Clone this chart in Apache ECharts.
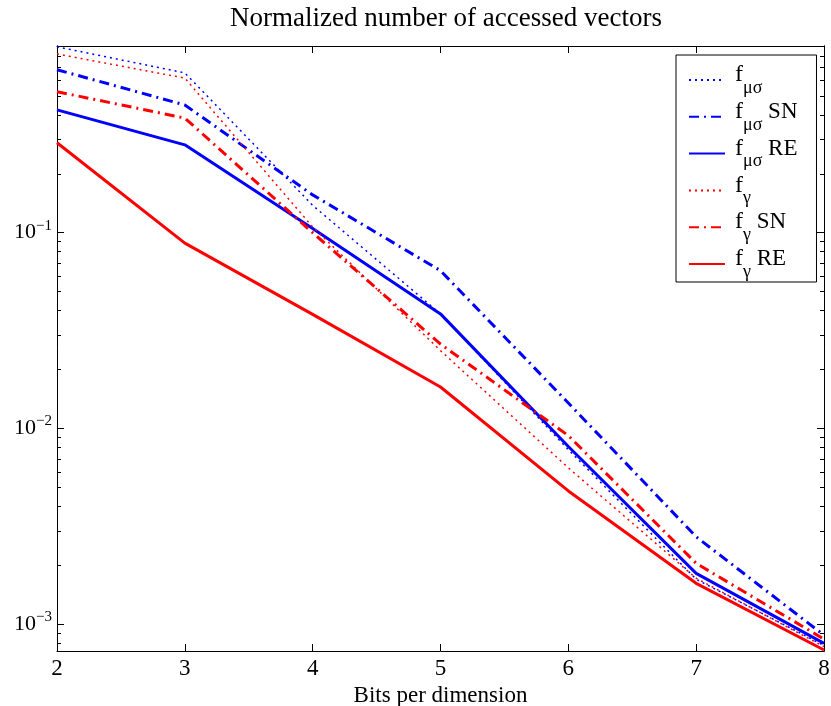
<!DOCTYPE html>
<html>
<head>
<meta charset="utf-8">
<title>Normalized number of accessed vectors</title>
<script src="https://cdn.jsdelivr.net/npm/echarts@6/dist/echarts.min.js"></script>
<style>
  html, body { margin: 0; padding: 0; background: #fff; }
  #chart { width: 831px; height: 706px; }
</style>
</head>
<body>
<div id="chart"></div>
<script>
  // bits per dimension
  var bits = [2, 3, 4, 5, 6, 7, 8];

  // values
  var fMuSigma   = [0.89, 0.655, 0.138, 0.0385, 0.0078, 0.0017, 0.00078];
  var fMuSigmaSN = [0.68, 0.449, 0.156, 0.064, 0.0135, 0.0028, 0.00088];
  var fMuSigmaRE = [0.424, 0.281, 0.105, 0.0385, 0.0081, 0.00182, 0.0008];
  var fGamma     = [0.818, 0.616, 0.107, 0.025, 0.0063, 0.00172, 0.00077];
  var fGammaSN   = [0.525, 0.385, 0.1, 0.027, 0.0092, 0.00205, 0.00084];
  var fGammaRE   = [0.288, 0.0885, 0.0383, 0.0163, 0.0048, 0.00162, 0.00074];

  var seriesNames = ['fμσ', 'fμσ SN', 'fμσ RE', 'fγ', 'fγ SN', 'fγ RE'];
  // legend text: [subscript, suffix]
  var legendParts = [['μσ', ''], ['μσ', ' SN'], ['μσ', ' RE'], ['γ', ''], ['γ', ' SN'], ['γ', ' RE']];

  var majorTicks = [0.001, 0.01, 0.1];
  var minorTicks = [0.0008, 0.0009,
    0.002, 0.003, 0.004, 0.005, 0.006, 0.007, 0.008, 0.009,
    0.02, 0.03, 0.04, 0.05, 0.06, 0.07, 0.08, 0.09,
    0.2, 0.3, 0.4, 0.5, 0.6, 0.7, 0.8];

  var yMin = 0.000731, yMax = 0.8985;
  var font = 'Liberation Serif';

  function pairs(arr) {
    return bits.map(function (b, i) { return [b, arr[i]]; });
  }

  var chart = echarts.init(document.getElementById('chart'));

  // log axis, one per tick set / side
  function yAxis(pos, ticks, len, withLabels) {
    return {
      type: 'log', position: pos, min: yMin, max: yMax, logBase: 10,
      axisLine: { show: true, onZero: false, lineStyle: { color: '#000', width: 1 } },
      axisTick: { show: true, inside: true, length: len, customValues: ticks, lineStyle: { color: '#000' } },
      axisLabel: withLabels ? {
        show: true, customValues: majorTicks, margin: 5,
        formatter: function (v) {
          var e = Math.round(Math.log10(v));
          return '{b|10}{s|−' + (-e) + '}';
        },
        rich: {
          b: { fontFamily: font, fontSize: 22, color: '#000' },
          s: { fontFamily: font, fontSize: 15, color: '#000', padding: [0, 0, 14, 0] }
        }
      } : { show: false },
      splitLine: { show: false },
      minorTick: { show: false }
    };
  }

  function xAxis(pos, withLabels) {
    var ax = {
      type: 'value', position: pos, min: 2, max: 8, interval: 1,
      axisLine: { show: true, onZero: false, lineStyle: { color: '#000', width: 1 } },
      axisTick: { show: true, inside: true, length: 7, lineStyle: { color: '#000' } },
      axisLabel: { show: withLabels, fontFamily: font, fontSize: 23, color: '#000', margin: 6 },
      splitLine: { show: false }
    };
    if (withLabels) {
      ax.name = 'Bits per dimension';
      ax.nameLocation = 'middle';
      ax.nameGap = 32;
      ax.nameTextStyle = { fontFamily: font, fontSize: 23, color: '#000' };
    }
    return ax;
  }

  var styles = [
    { color: '#0000ff', width: 1.5, type: [2, 4] },
    { color: '#0000ff', width: 3, type: [10, 5, 2, 5] },
    { color: '#0000ff', width: 3, type: 'solid' },
    { color: '#ff0000', width: 1.5, type: [2, 4] },
    { color: '#ff0000', width: 3, type: [10, 5, 2, 5] },
    { color: '#ff0000', width: 3, type: 'solid' }
  ];
  var dataSets = [fMuSigma, fMuSigmaSN, fMuSigmaRE, fGamma, fGammaSN, fGammaRE];

  chart.setOption({
    backgroundColor: '#fff',
    animation: false,
    title: {
      text: 'Normalized number of accessed vectors',
      left: 441, top: 0, textAlign: 'center',
      textStyle: { fontFamily: font, fontSize: 27, fontWeight: 'normal', color: '#000', lineHeight: 27 }
    },
    grid: { left: 57, right: 7, top: 46, bottom: 55, outerBoundsMode: 'none' },
    legend: {
      orient: 'vertical', left: 676, top: 55,
      padding: [8, 19, 1, 12],
      itemWidth: 36, itemHeight: 14, itemGap: 2.8,
      backgroundColor: '#fff', borderColor: '#000', borderWidth: 1,
      itemStyle: { opacity: 0 },
      data: seriesNames,
      formatter: function (name) {
        var p = legendParts[seriesNames.indexOf(name)];
        return '{f|f}{s|' + p[0] + '}' + (p[1] ? '{t|' + p[1] + '}' : '');
      },
      textStyle: {
        fontFamily: font, fontSize: 22, color: '#000',
        rich: {
          f: { fontFamily: font, fontSize: 24, color: '#000', padding: [0, 0, 10, 5] },
          s: { fontFamily: font, fontSize: 18, color: '#000', padding: [16, 0, 0, 0] },
          t: { fontFamily: font, fontSize: 23, color: '#000', padding: [0, 0, 10, 0] }
        }
      }
    },
    xAxis: [xAxis('bottom', true), xAxis('top', false)],
    yAxis: [
      yAxis('left', majorTicks, 7, true),
      yAxis('left', minorTicks, 4, false),
      yAxis('right', majorTicks, 7, false),
      yAxis('right', minorTicks, 4, false)
    ],
    series: dataSets.map(function (d, i) {
      return {
        name: seriesNames[i], type: 'line', xAxisIndex: 0, yAxisIndex: 0,
        data: pairs(d), symbol: 'none', showSymbol: false,
        color: styles[i].color,
        lineStyle: styles[i], z: 2 + i
      };
    })
  });
</script>
</body>
</html>
